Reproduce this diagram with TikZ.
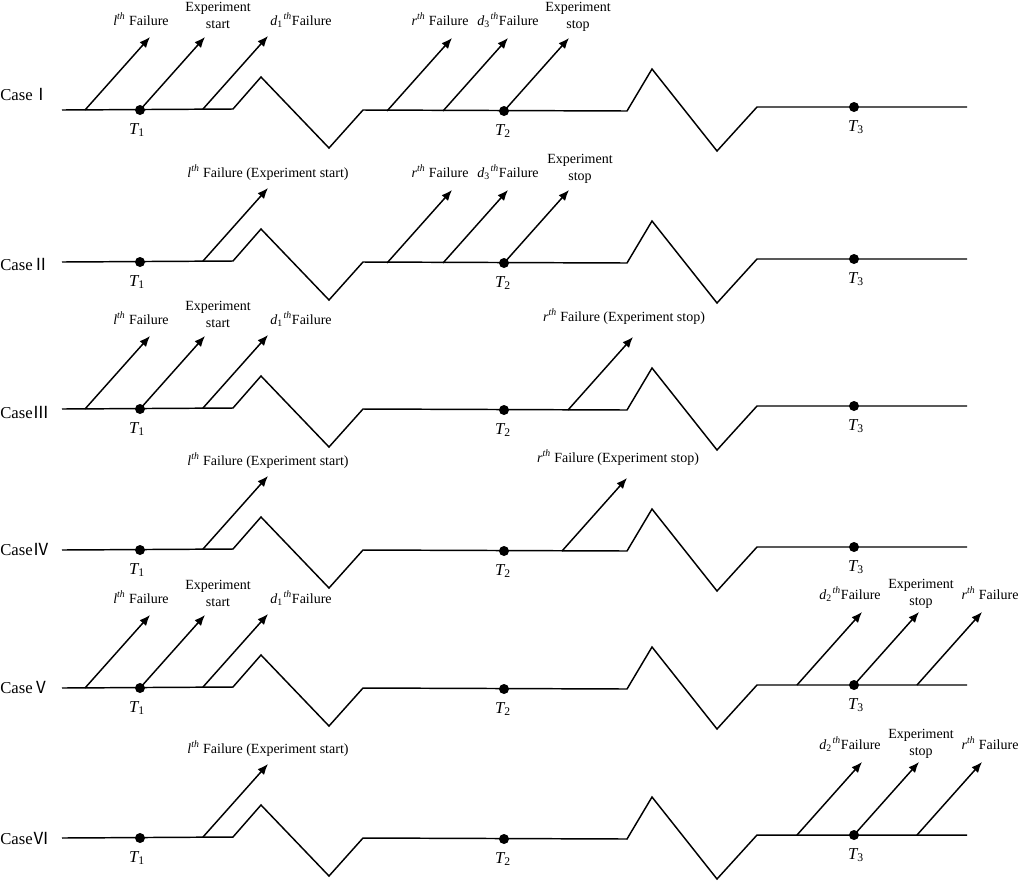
\documentclass[tikz,border=0pt]{standalone}
\usepackage{fontspec}
\setmainfont{Liberation Serif}
\newfontfamily\cjk{Noto Sans CJK SC}
\usetikzlibrary{arrows.meta,calc}
\newcommand\sth[1]{\textit{#1}\textsuperscript{\textit{th}}}
\newcommand\dth[2]{\textit{#1}\textsubscript{#2}\kern0.05em\textsuperscript{\textit{th}}}
\newcommand\Tlab[1]{\textit{T}\kern-0.05em\textsubscript{#1}}
% row: #1 prefix, #2 y of the line
\newcommand\tlrow[2]{%
  \draw[tl] (62,#2) -- (233,#2-1) -- (261,#2-33) -- (329,#2+38) -- (363,#2)
    -- (627,#2+1) -- (652,#2-41) -- (717,#2+41) -- (757,#2-3) -- (967,#2-3);
  \node[dot] (#1t1) at (140,#2) {};
  \node[dot] (#1t2) at (504,#2+1) {};
  \node[dot] (#1t3) at (854,#2-3) {};
  \node[tlab] (#1T1) at (137,#2+20) {\Tlab{1}};
  \node[tlab] (#1T2) at (503,#2+21) {\Tlab{2}};
  \node[tlab] (#1T3) at (856,#2+17) {\Tlab{3}};
}
% free arrow: #1 name, #2 x, #3 y
\newcommand\farrow[3]{%
  \coordinate (#1s) at (#2,#3);
  \coordinate (#1e) at (#2+65,#3-73);
  \draw[arr] (#1s) -- (#1e);}
% arrow from a dot: #1 name, #2 dot node
\newcommand\darrow[2]{%
  \coordinate (#1e) at ($(#2.center)+(65,-73)$);
  \draw[arr] (#2.center) -- (#1e);}
\begin{document}
\begin{tikzpicture}[x=0.75pt,y=-0.75pt,
  tl/.style={line width=1.1pt,line join=miter},
  arr/.style={line width=1.1pt,-{Latex[length=8pt,width=6.5pt]}},
  dot/.style={circle,fill=black,inner sep=0pt,minimum size=7.5pt},
  lab/.style={inner sep=0pt,anchor=base,font=\fontsize{10.5}{12}\selectfont},
  tlab/.style={inner sep=0pt,font=\fontsize{12.5}{14}\selectfont},
  case/.style={inner sep=0pt,anchor=base west,font=\fontsize{12.5}{14}\selectfont},
  ]
\useasboundingbox (0,0) rectangle (1024,883);

% ---------------- Case I ----------------
\tlrow{a}{110}
\node[case] (caseA) at (0,100) {Case{\cjk Ⅰ}};
\farrow{aA}{85}{110}
\darrow{aB}{at1}
\farrow{aC}{203}{109}
\farrow{aD}{387}{111}
\farrow{aE}{443}{111}
\darrow{aF}{at2}
\node[lab] (aL1) at (141,25) {\sth{l} Failure};
\node[lab] (aL2) at (218,11) {Experiment};
\node[lab] (aL3) at (218,28) {start};
\node[lab] (aL4) at (301,25) {\dth{d}{1}Failure};
\node[lab] (aL5) at (440,25) {\sth{r} Failure};
\node[lab] (aL6) at (508,25) {\dth{d}{3}Failure};
\node[lab] (aL7) at (578,11) {Experiment};
\node[lab] (aL8) at (578,28) {stop};

% ---------------- Case II ----------------
\tlrow{b}{262}
\node[case] (caseB) at (0,270) {Case{\cjk Ⅱ}};
\farrow{bC}{203}{261}
\farrow{bD}{387}{263}
\farrow{bE}{443}{263}
\darrow{bF}{bt2}
\node[lab] (bL1) at (268,177) {\sth{l} Failure (Experiment start)};
\node[lab] (bL5) at (440,177) {\sth{r} Failure};
\node[lab] (bL6) at (508,177) {\dth{d}{3}Failure};
\node[lab] (bL7) at (580,163) {Experiment};
\node[lab] (bL8) at (580,180) {stop};

% ---------------- Case III ----------------
\tlrow{c}{409}
\node[case] (caseC) at (0,418) {Case{\cjk Ⅲ}};
\farrow{cA}{85}{409}
\darrow{cB}{ct1}
\farrow{cC}{203}{408}
\farrow{cD}{568}{410}
\node[lab] (cL1) at (141,324) {\sth{l} Failure};
\node[lab] (cL2) at (218,310) {Experiment};
\node[lab] (cL3) at (218,327) {start};
\node[lab] (cL4) at (301,324) {\dth{d}{1}Failure};
\node[lab] (cL5) at (624,321) {\sth{r} Failure (Experiment stop)};

% ---------------- Case IV ----------------
\tlrow{d}{550}
\node[case] (caseD) at (0,555) {Case{\cjk Ⅳ}};
\farrow{dC}{203}{549}
\farrow{dD}{562}{551}
\node[lab] (dL1) at (268,465) {\sth{l} Failure (Experiment start)};
\node[lab] (dL5) at (618,462) {\sth{r} Failure (Experiment stop)};

% ---------------- Case V ----------------
\tlrow{e}{688}
\node[case] (caseE) at (0,693) {Case{\cjk Ⅴ}};
\farrow{eA}{85}{688}
\darrow{eB}{et1}
\farrow{eC}{203}{687}
\farrow{eD}{797}{685}
\darrow{eE}{et3}
\farrow{eF}{917}{685}
\node[lab] (eL1) at (141,603) {\sth{l} Failure};
\node[lab] (eL2) at (218,589) {Experiment};
\node[lab] (eL3) at (218,606) {start};
\node[lab] (eL4) at (301,603) {\dth{d}{1}Failure};
\node[lab] (eL5) at (850,599) {\dth{d}{2}Failure};
\node[lab] (eL6) at (921,588) {Experiment};
\node[lab] (eL7) at (921,605) {stop};
\node[lab] (eL8) at (990,599) {\sth{r} Failure};

% ---------------- Case VI ----------------
\tlrow{f}{838}
\node[case] (caseF) at (0,844) {Case{\cjk Ⅵ}};
\farrow{fC}{203}{837}
\farrow{fD}{797}{835}
\darrow{fE}{ft3}
\farrow{fF}{917}{835}
\node[lab] (fL1) at (268,753) {\sth{l} Failure (Experiment start)};
\node[lab] (fL5) at (850,749) {\dth{d}{2}Failure};
\node[lab] (fL6) at (921,738) {Experiment};
\node[lab] (fL7) at (921,755) {stop};
\node[lab] (fL8) at (990,749) {\sth{r} Failure};
\end{tikzpicture}
\end{document}
